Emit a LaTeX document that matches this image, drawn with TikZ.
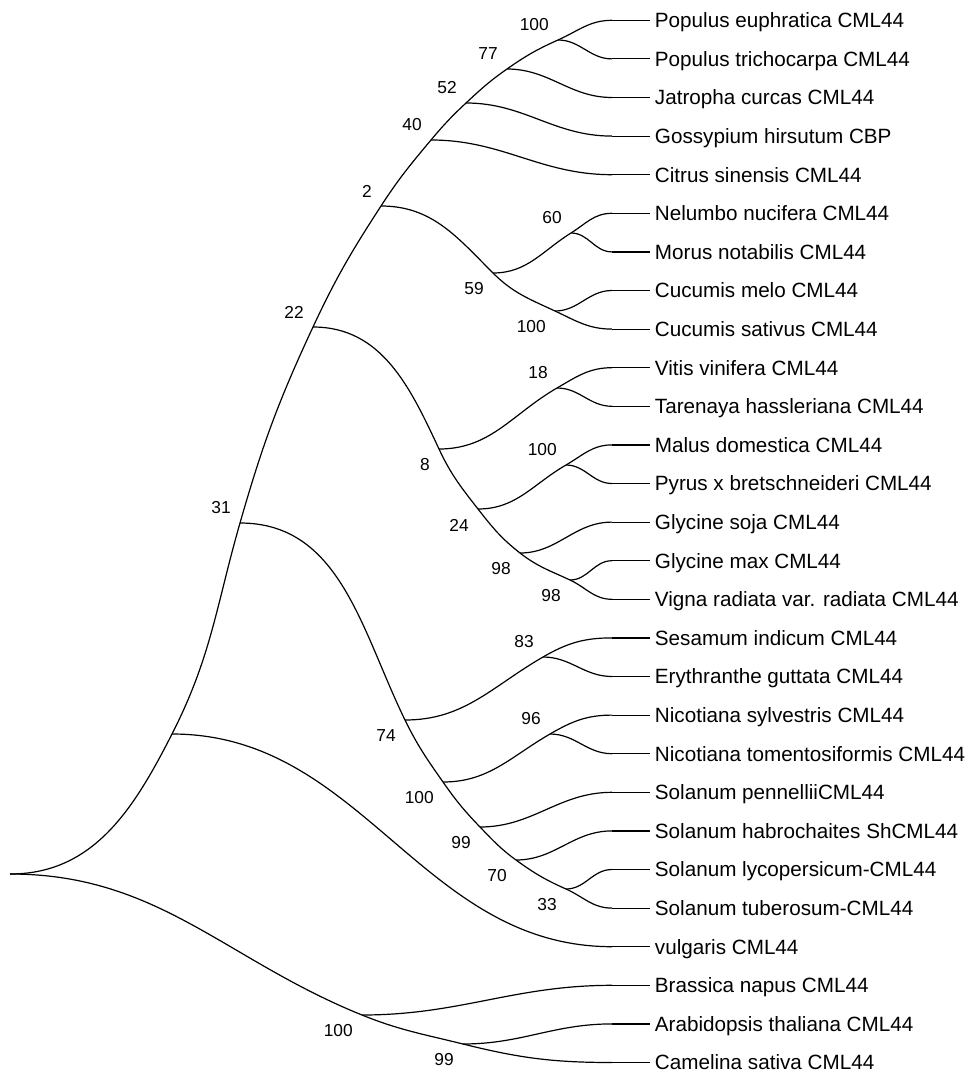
\documentclass[tikz,border=0pt]{standalone}
\usepackage{fontspec}
\newfontfamily\treefont{Liberation Sans}
\tikzset{
  % Tree
  branch/.style = { line width=0.9pt, black },
  taxon/.style  = { anchor=west, inner xsep=3.5pt, inner ysep=0pt,
                    text height=11.2pt, text depth=0pt,
                    font=\treefont\fontsize{15.5}{18}\selectfont },
  bsup/.style   = { anchor=east, inner sep=0pt, shift={(-9,-15)},
                    font=\treefont\fontsize{13}{15}\selectfont },
  bsdn/.style   = { anchor=east, inner sep=0pt, shift={(-9,16)},
                    font=\treefont\fontsize{13}{15}\selectfont }
}

\begin{document}
\begin{tikzpicture}[x=0.75pt, y=-0.75pt]
  \useasboundingbox (0,0) rectangle (971,1074);

  % --- Internal nodes (pixel grid, y grows downwards) ----------------
  \coordinate (root)  at (10,874);
  \coordinate (u)     at (172,734);
  \coordinate (n31)   at (240,523);
  \coordinate (n22)   at (313,327);
  \coordinate (n2)    at (381,206);
  \coordinate (n40)   at (431,140);
  \coordinate (n52)   at (466,103);
  \coordinate (n77)   at (507,69);
  \coordinate (n100a) at (558,40);
  \coordinate (n59)   at (493,273);
  \coordinate (n60)   at (571,233);
  \coordinate (n100b) at (555,311);
  \coordinate (n8)    at (439,449);
  \coordinate (n18)   at (557,388);
  \coordinate (n24)   at (478,509);
  \coordinate (n100c) at (566,465);
  \coordinate (n98a)  at (520,553);
  \coordinate (n98b)  at (570,580);
  \coordinate (n74)   at (405,720);
  \coordinate (n83)   at (543,657);
  \coordinate (n100d) at (443,782);
  \coordinate (n96)   at (550,734);
  \coordinate (n99)   at (480,827);
  \coordinate (n70)   at (516,860);
  \coordinate (n33)   at (566,889);
  \coordinate (b)     at (362,1015);
  \coordinate (n99b)  at (463,1044);

  % --- Leaves (fixed row step of 38.6px) -----------------------------
  \foreach \taxname [count=\i] in {Populus euphratica CML44, Populus trichocarpa CML44,
      Jatropha curcas CML44, Gossypium hirsutum CBP, Citrus sinensis CML44,
      Nelumbo nucifera CML44, Morus notabilis CML44, Cucumis melo CML44,
      Cucumis sativus CML44, Vitis vinifera CML44, Tarenaya hassleriana CML44,
      Malus domestica CML44, Pyrus x bretschneideri CML44, Glycine soja CML44,
      Glycine max CML44, Vigna radiata var. radiata CML44, Sesamum indicum CML44,
      Erythranthe guttata CML44, Nicotiana sylvestris CML44,
      Nicotiana tomentosiformis CML44, Solanum pennelliiCML44,
      Solanum habrochaites ShCML44, Solanum lycopersicum-CML44,
      Solanum tuberosum-CML44, vulgaris CML44, Brassica napus CML44,
      Arabidopsis thaliana CML44, Camelina sativa CML44} {
    \coordinate (l\i) at (612,{20.3+38.6*(\i-1)});
    \node[taxon] (t\i) at (650,{20.3+38.6*(\i-1)}) {\taxname};
    \draw[branch] (l\i) -- (t\i.west);
  }

  % --- Branches ------------------------------------------------------
  \draw[branch] (root) to[out=0,in=243] (u) to[out=63,in=254] (n31)
    to[out=74,in=245] (n22) to[out=65,in=237] (n2) to[out=57,in=230] (n40)
    to[out=50,in=223] (n52) to[out=43,in=215] (n77) to[out=35,in=204] (n100a)
    to[out=24,in=180] (l1);
  \draw[branch] (n100a) to[out=0,in=180] (l2);
  \draw[branch] (n77) to[out=0,in=180] (l3);
  \draw[branch] (n52) to[out=0,in=180] (l4);
  \draw[branch] (n40) to[out=0,in=180] (l5);

  \draw[branch] (n2) to[out=0,in=135] (n59) to[out=-45,in=155] (n100b)
    to[out=-25,in=180] (l9);
  \draw[branch] (n59) to[out=0,in=212] (n60) to[out=32,in=180] (l6);
  \draw[branch] (n60) to[out=0,in=180] (l7);
  \draw[branch] (n100b) to[out=0,in=180] (l8);

  \draw[branch] (n22) to[out=0,in=115] (n8) to[out=-65,in=128] (n24)
    to[out=-52,in=142] (n98a) to[out=-38,in=155] (n98b) to[out=-25,in=180] (l16);
  \draw[branch] (n8) to[out=0,in=210] (n18) to[out=30,in=180] (l10);
  \draw[branch] (n18) to[out=0,in=180] (l11);
  \draw[branch] (n24) to[out=0,in=210] (n100c) to[out=30,in=180] (l12);
  \draw[branch] (n100c) to[out=0,in=180] (l13);
  \draw[branch] (n98a) to[out=0,in=180] (l14);
  \draw[branch] (n98b) to[out=0,in=180] (l15);

  \draw[branch] (n31) to[out=0,in=116] (n74) to[out=-64,in=125] (n100d)
    to[out=-55,in=134] (n99) to[out=-46,in=144] (n70) to[out=-36,in=156] (n33)
    to[out=-24,in=180] (l24);
  \draw[branch] (n74) to[out=0,in=210] (n83) to[out=30,in=180] (l17);
  \draw[branch] (n83) to[out=0,in=180] (l18);
  \draw[branch] (n100d) to[out=0,in=210] (n96) to[out=30,in=180] (l19);
  \draw[branch] (n96) to[out=0,in=180] (l20);
  \draw[branch] (n99) to[out=0,in=180] (l21);
  \draw[branch] (n70) to[out=0,in=180] (l22);
  \draw[branch] (n33) to[out=0,in=180] (l23);

  \draw[branch] (u) to[out=0,in=180] (l25);
  \draw[branch] (root) to[out=0,in=158] (b) to[out=-22,in=166] (n99b)
    to[out=-14,in=180] (l28);
  \draw[branch] (b) to[out=0,in=180] (l26);
  \draw[branch] (n99b) to[out=0,in=180] (l27);

  % --- Bootstrap values ----------------------------------------------
  \foreach \nd/\val in {n100a/100, n77/77, n52/52, n40/40, n2/2, n22/22, n31/31,
      n60/60, n18/18, n100c/100, n83/83, n96/96}
    \node[bsup] (bs\nd) at (\nd) {\val};
  \foreach \nd/\val in {n59/59, n100b/100, n8/8, n24/24, n98a/98, n98b/98,
      n74/74, n100d/100, n99/99, n70/70, n33/33, b/100, n99b/99}
    \node[bsdn] (bs\nd) at (\nd) {\val};

\end{tikzpicture}
\end{document}
